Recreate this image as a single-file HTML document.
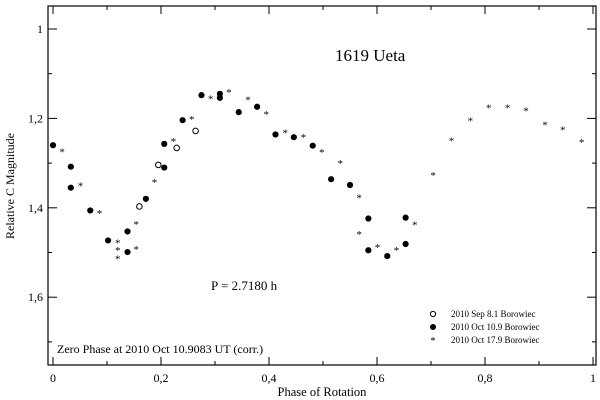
<!DOCTYPE html>
<html><head><meta charset="utf-8">
<style>
body{margin:0;background:#fff;}
svg{display:block;font-family:"Liberation Serif",serif;}
</style></head>
<body>
<svg id="chart" width="600" height="400">
<rect x="48" y="6" width="548" height="359" fill="none" stroke="#000" stroke-width="1.2"/>
<g id="ticks"></g>
<g id="marks"></g>
<text x="335" y="61" font-size="17">1619 Ueta</text>
<text x="211" y="290" font-size="13">P = 2.7180 h</text>
<text x="57" y="353" font-size="12">Zero Phase at  2010 Oct 10.9083 UT (corr.)</text>
<text x="322" y="396" font-size="12.5" text-anchor="middle">Phase of Rotation</text>
<text transform="translate(14,186) rotate(-90)" font-size="12" text-anchor="middle">Relative C Magnitude</text>
<g>
<circle cx="433" cy="314" r="2.6" fill="#fff" stroke="#000"/>
<text x="451" y="317" font-size="9">2010 Sep 8.1 Borowiec</text>
<circle cx="433" cy="327" r="3" fill="#000"/>
<text x="451" y="330" font-size="9">2010 Oct 10.9 Borowiec</text>
<text x="433" y="344" font-size="10" text-anchor="middle">*</text>
<text x="451" y="343" font-size="9">2010 Oct 17.9 Borowiec</text>
</g>
</svg>
<script>
const xTicks=[0,0.2,0.4,0.6,0.8,1];
const xTickLabels=["0","0,2","0,4","0,6","0,8","1"];
const yTicks=[1,1.2,1.4,1.6];
const yTickLabels=["1","1,2","1,4","1,6"];
const sepPhase=[0.160,0.195,0.229,0.264];
const sepMag=[1.397,1.304,1.266,1.228];
const oct10Phase=[0,0.033,0.033,0.069,0.102,0.138,0.138,0.172,0.206,0.206,0.240,0.275,0.309,0.309,0.344,0.378,0.412,0.446,0.481,0.515,0.55,0.584,0.584,0.619,0.653,0.653];
const oct10Mag=[1.260,1.308,1.355,1.406,1.473,1.499,1.453,1.380,1.257,1.310,1.204,1.148,1.145,1.154,1.186,1.174,1.236,1.242,1.261,1.336,1.349,1.424,1.495,1.508,1.422,1.481];
const oct17Phase=[0.017,0.051,0.086,0.120,0.120,0.120,0.154,0.154,0.188,0.223,0.257,0.292,0.326,0.361,0.395,0.430,0.464,0.498,0.532,0.567,0.567,0.601,0.636,0.670,0.704,0.738,0.773,0.807,0.842,0.876,0.911,0.944,0.979];
const oct17Mag=[1.273,1.349,1.411,1.477,1.493,1.512,1.491,1.435,1.341,1.249,1.200,1.154,1.140,1.157,1.189,1.230,1.240,1.274,1.299,1.376,1.457,1.487,1.493,1.436,1.326,1.248,1.204,1.175,1.174,1.181,1.212,1.224,1.252];

const NS="http://www.w3.org/2000/svg";
const xS=p=>53+540*p;
const yS=m=>29+(m-1)*447;
function mk(tag,attrs,parent){const e=document.createElementNS(NS,tag);for(const k in attrs)e.setAttribute(k,attrs[k]);parent.appendChild(e);return e;}
const T=document.getElementById('ticks'),M=document.getElementById('marks');
// x ticks
for(let i=0;i<=10;i++){const p=i/10,x=xS(p),L=i%2?4:8;
 let t=mk('line',{x1:x,x2:x,y1:365,y2:365-L,stroke:'#000'},T);
 
 
 t=mk('line',{x1:x,x2:x,y1:6,y2:6+L,stroke:'#000'},T);
 
 }
xTicks.forEach((v,i)=>{const t=mk('text',{x:xS(v),y:382,'font-size':12,'text-anchor':'middle'},T);t.textContent=xTickLabels[i];
 
 });
// y ticks
for(let i=0;i<=7;i++){const m=1+i*0.1,y=yS(m),L=i%2?4:9;
 let t=mk('line',{x1:48,x2:48+L,y1:y,y2:y,stroke:'#000'},T);
 
 
 t=mk('line',{x1:596,x2:596-L,y1:y,y2:y,stroke:'#000'},T);
 
 }
yTicks.forEach((v,i)=>{const t=mk('text',{x:43,y:yS(v)+4,'font-size':12,'text-anchor':'end'},T);t.textContent=yTickLabels[i];
 
 });
// series
sepPhase.forEach((p,i)=>{const c=mk('circle',{cx:xS(p),cy:yS(sepMag[i]),r:2.8,fill:'#fff',stroke:'#000','stroke-width':1},M);
 
 });
oct10Phase.forEach((p,i)=>{const c=mk('circle',{cx:xS(p),cy:yS(oct10Mag[i]),r:3.1,fill:'#000'},M);
 
 });
oct17Phase.forEach((p,i)=>{const c=mk('text',{x:xS(p),y:yS(oct17Mag[i])+4.5,'font-size':11,'text-anchor':'middle'},M);c.textContent='*';
 
 });
</script>
</body></html>
